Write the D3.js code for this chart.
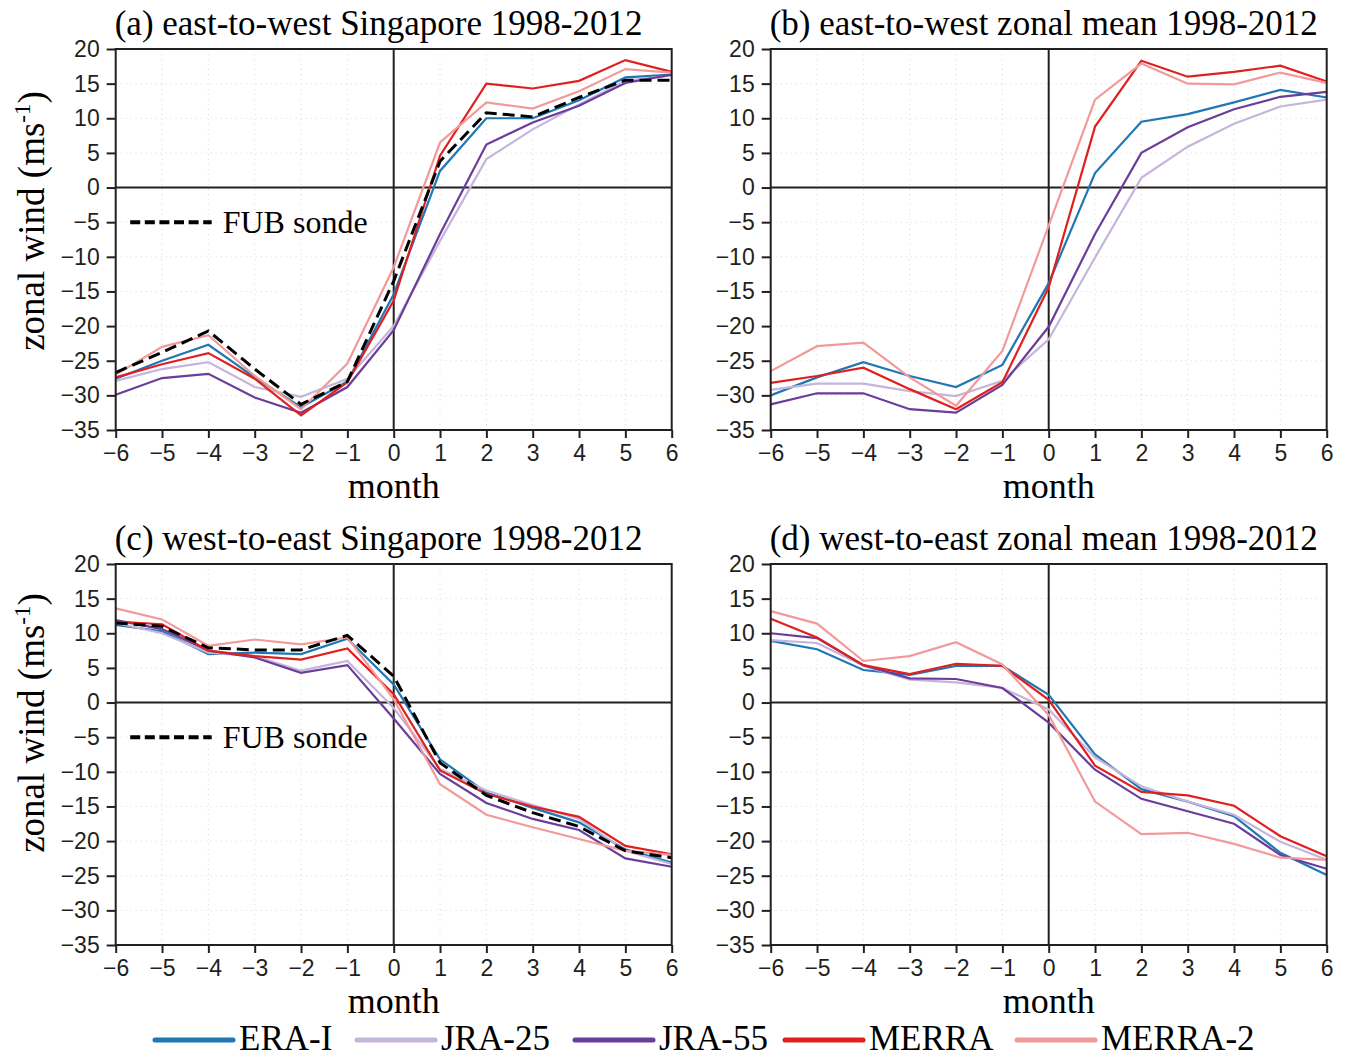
<!DOCTYPE html>
<html>
<head>
<meta charset="utf-8">
<script src="https://cdn.jsdelivr.net/npm/d3@7"></script>
<style>
  html, body { margin: 0; padding: 0; background: #fff; }
  svg { display: block; }
</style>
</head>
<body>
<svg id="chart" width="1349" height="1058"></svg>
<script>
// ---------------- DATA ----------------
const months = [-6, -5, -4, -3, -2, -1, 0, 1, 2, 3, 4, 5, 6];
const yTicks = [-35, -30, -25, -20, -15, -10, -5, 0, 5, 10, 15, 20];
const seriesNames = ["ERA-I", "JRA-25", "JRA-55", "MERRA", "MERRA-2"];
const fubName = "FUB sonde";

// (a) east-to-west Singapore
const eraI_a   = [-27.6, -25.0, -22.7, -27.4, -31.7, -28.0, -15.4,  2.4, 10.0, 10.0, 12.6, 15.9, 16.3];
const jra25_a  = [-27.9, -26.2, -25.2, -28.8, -30.2, -27.6, -20.0, -7.7,  4.1,  8.4, 12.0, 15.4, 16.2];
const jra55_a  = [-29.9, -27.5, -26.9, -30.3, -32.5, -28.8, -20.6, -6.7,  6.2,  9.4, 11.8, 15.1, 16.3];
const merra_a  = [-27.4, -25.5, -23.9, -27.6, -32.9, -28.1, -16.3,  4.6, 15.0, 14.3, 15.4, 18.4, 16.7];
const merra2_a = [-27.0, -23.0, -21.3, -27.2, -32.0, -25.4, -11.5,  6.5, 12.3, 11.4, 13.9, 17.1, 16.6];
const fub_a    = [-26.7, -23.8, -20.7, -26.2, -31.3, -28.0, -13.5,  3.8, 10.8, 10.2, 13.0, 15.5, 15.5];

// (b) east-to-west zonal mean
const eraI_b   = [-30.0, -27.4, -25.2, -27.2, -28.8, -25.6, -13.8,  2.1,  9.5, 10.6, 12.3, 14.1, 13.0];
const jra25_b  = [-29.2, -28.3, -28.3, -29.4, -30.1, -27.9, -21.9, -10.1, 1.4,  5.9,  9.2, 11.7, 12.7];
const jra55_b  = [-31.3, -29.7, -29.7, -32.0, -32.5, -28.5, -20.1, -6.7,  5.0,  8.7, 11.3, 13.1, 13.8];
const merra_b  = [-28.2, -27.2, -26.0, -29.1, -32.0, -28.1, -14.4,  8.8, 18.3, 16.0, 16.7, 17.6, 15.3];
const merra2_b = [-26.5, -22.9, -22.4, -27.4, -31.5, -23.6,  -5.5, 12.7, 17.9, 15.0, 14.9, 16.6, 15.1];

// (c) west-to-east Singapore
const eraI_c   = [11.2, 10.3, 7.0, 7.2, 7.0, 9.2,  2.6,  -8.2, -13.0, -15.2, -17.3, -21.2, -23.1];
const jra25_c  = [11.5, 10.0, 7.2, 6.7, 4.6, 6.0, -0.8,  -9.6, -12.7, -14.8, -16.8, -21.4, -23.3];
const jra55_c  = [11.9, 10.6, 7.5, 6.5, 4.3, 5.4, -2.3, -10.3, -14.5, -16.8, -18.4, -22.5, -23.7];
const merra_c  = [11.7, 11.3, 7.5, 6.7, 6.2, 7.8,  1.2,  -9.8, -13.2, -15.0, -16.5, -20.7, -21.9];
const merra2_c = [13.6, 12.0, 8.2, 9.1, 8.4, 9.4,  0.5, -11.8, -16.2, -18.0, -19.7, -21.4, -22.0];
const fub_c    = [11.5, 11.0, 7.9, 7.6, 7.6, 9.7,  3.8,  -8.7, -13.4, -15.9, -17.9, -21.4, -22.4];

// (d) west-to-east zonal mean
const eraI_d   = [ 8.9,  7.7, 4.7, 4.0, 5.3, 5.3,  1.1,  -7.5, -12.5, -14.3, -16.4, -21.7, -24.9];
const jra25_d  = [ 9.0,  8.6, 5.3, 3.3, 2.9, 2.1, -1.0,  -7.9, -12.1, -14.3, -16.2, -20.1, -22.7];
const jra55_d  = [10.0,  9.3, 5.4, 3.5, 3.4, 2.1, -2.9,  -9.7, -13.9, -15.7, -17.5, -22.0, -24.0];
const merra_d  = [12.1,  9.4, 5.4, 4.1, 5.6, 5.3,  0.4,  -9.1, -12.9, -13.4, -14.9, -19.3, -22.2];
const merra2_d = [13.2, 11.4, 6.0, 6.7, 8.7, 5.5, -1.8, -14.3, -19.0, -18.8, -20.4, -22.4, -22.7];

const titles = [
  "(a) east-to-west Singapore 1998-2012",
  "(b) east-to-west zonal mean 1998-2012",
  "(c) west-to-east Singapore 1998-2012",
  "(d) west-to-east zonal mean 1998-2012"
];

// ---------------- STYLE / LAYOUT ----------------
const colors = ["#1f77b4", "#c6b5da", "#6a3d9a", "#e0201f", "#f29a9a"];
const ink = "#231f20";
const serif = "'Liberation Serif', 'Times New Roman', serif";
const sans = "'Liberation Sans', Arial, sans-serif";
const PW = 556, PH = 381;

const panels = [
  { x0: 115.7, y0: 49,  title: titles[0], series: [eraI_a, jra25_a, jra55_a, merra_a, merra2_a], fub: fub_a, ylab: true,  ylabCy: 221 },
  { x0: 770.7, y0: 49,  title: titles[1], series: [eraI_b, jra25_b, jra55_b, merra_b, merra2_b], fub: null,  ylab: false },
  { x0: 115.7, y0: 564, title: titles[2], series: [eraI_c, jra25_c, jra55_c, merra_c, merra2_c], fub: fub_c, ylab: true,  ylabCy: 723 },
  { x0: 770.7, y0: 564, title: titles[3], series: [eraI_d, jra25_d, jra55_d, merra_d, merra2_d], fub: null,  ylab: false }
];

const svg = d3.select("#chart");
const x = d3.scaleLinear().domain([-6, 6]).range([0, PW]);
const y = d3.scaleLinear().domain([-35, 20]).range([PH, 0]);

panels.forEach((p, pi) => {
  const g = svg.append("g").attr("transform", `translate(${p.x0},${p.y0})`);

  // grid (faint dotted)
  g.append("g").selectAll("line.vg").data(months.slice(1, -1)).join("line")
    .attr("x1", d => x(d)).attr("x2", d => x(d)).attr("y1", 0).attr("y2", PH)
    .attr("stroke", "#d9d9d9").attr("stroke-width", 1).attr("stroke-dasharray", "1,4");
  g.append("g").selectAll("line.hg").data(yTicks.slice(1, -1)).join("line")
    .attr("y1", d => y(d)).attr("y2", d => y(d)).attr("x1", 0).attr("x2", PW)
    .attr("stroke", "#d9d9d9").attr("stroke-width", 1).attr("stroke-dasharray", "1,4");

  // zero lines
  g.append("line").attr("x1", x(0)).attr("x2", x(0)).attr("y1", 0).attr("y2", PH)
    .attr("stroke", ink).attr("stroke-width", 2);
  g.append("line").attr("x1", 0).attr("x2", PW).attr("y1", y(0)).attr("y2", y(0))
    .attr("stroke", ink).attr("stroke-width", 2);

  // series
  const line = d3.line().x((d, i) => x(months[i])).y(d => y(d));
  p.series.forEach((s, si) => {
    g.append("path").datum(s).attr("d", line)
      .attr("fill", "none").attr("stroke", colors[si]).attr("stroke-width", 2.2)
      .attr("stroke-linejoin", "miter");
  });
  if (p.fub) {
    g.append("path").datum(p.fub).attr("d", line)
      .attr("fill", "none").attr("stroke", "#000").attr("stroke-width", 3)
      .attr("stroke-dasharray", "12,6");
    // FUB legend
    g.append("line").attr("x1", 14.5).attr("x2", 96).attr("y1", y(-5)).attr("y2", y(-5))
      .attr("stroke", "#000").attr("stroke-width", 4).attr("stroke-dasharray", "10,4.6");
    g.append("text").attr("x", 107).attr("y", y(-5) + 11)
      .attr("font-family", serif).attr("font-size", 32).attr("fill", "#000")
      .text(fubName);
  }

  // frame
  g.append("rect").attr("x", 0).attr("y", 0).attr("width", PW).attr("height", PH)
    .attr("fill", "none").attr("stroke", ink).attr("stroke-width", 2);

  // axes
  const ya = g.append("g").call(d3.axisLeft(y).tickValues(yTicks).tickSize(9).tickPadding(7));
  const xa = g.append("g").attr("transform", `translate(0,${PH})`)
    .call(d3.axisBottom(x).tickValues(months).tickSize(8));
  [ya, xa].forEach(a => {
    a.select(".domain").remove();
    a.selectAll(".tick line").attr("stroke", ink).attr("stroke-width", 2);
    a.selectAll(".tick text").attr("font-family", sans).attr("font-size", 23).attr("fill", ink);
  });
  xa.selectAll(".tick text").attr("dy", null).attr("y", 31);

  // x label
  g.append("text").attr("x", x(0)).attr("y", PH + 68).attr("text-anchor", "middle")
    .attr("font-family", serif).attr("font-size", 36).attr("fill", "#000").text("month");

  // title
  g.append("text").attr("x", -1).attr("y", -14)
    .attr("font-family", serif).attr("font-size", 35).attr("fill", "#000").text(p.title);

  // y label
  if (p.ylab) {
    const t = svg.append("text")
      .attr("transform", `translate(44,${p.ylabCy}) rotate(-90)`)
      .attr("text-anchor", "middle")
      .attr("font-family", serif).attr("font-size", 37).attr("fill", "#000");
    t.append("tspan").text("zonal wind (ms");
    t.append("tspan").attr("dy", -14).attr("font-size", 23).text("-1");
    t.append("tspan").attr("dy", 14).text(")");
  }
});

// bottom legend
const legX = [155, 357, 575, 785, 1017];
const lg = svg.append("g");
seriesNames.forEach((n, i) => {
  lg.append("line").attr("x1", legX[i]).attr("x2", legX[i] + 78).attr("y1", 1040).attr("y2", 1040)
    .attr("stroke", colors[i]).attr("stroke-width", 5).attr("stroke-linecap", "round");
  lg.append("text").attr("x", legX[i] + 84).attr("y", 1050)
    .attr("font-family", serif).attr("font-size", 35).attr("fill", "#000").text(n);
});
</script>
</body>
</html>
